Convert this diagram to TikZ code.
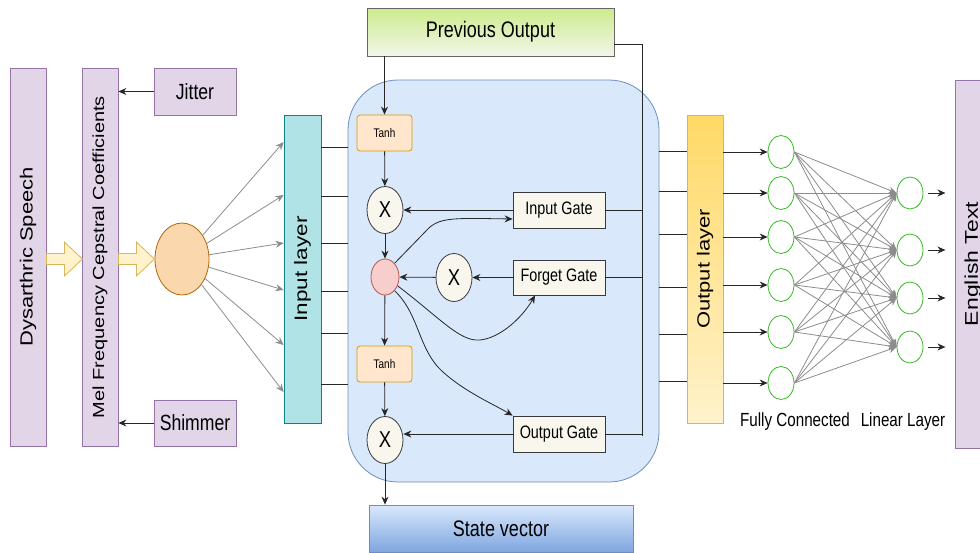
\documentclass[tikz,border=0pt]{standalone}
\usepackage{fontspec}
\setmainfont{Liberation Sans}[FakeStretch=0.8]
\newfontfamily\uprightsans{Liberation Sans}
\usetikzlibrary{arrows.meta,shapes.geometric}

\definecolor{lilac}{HTML}{E1D5E7}
\definecolor{lilacdraw}{HTML}{9673A6}
\definecolor{sand}{HTML}{FFF2CC}
\definecolor{sanddraw}{HTML}{D6B656}
\definecolor{peach}{HTML}{FAD7AC}
\definecolor{peachdraw}{HTML}{B46504}
\definecolor{teal}{HTML}{B0E3E6}
\definecolor{tealdraw}{HTML}{0E8088}
\definecolor{cellfill}{HTML}{DAE8FC}
\definecolor{celldraw}{HTML}{6C8EBF}
\definecolor{tanhfill}{HTML}{FFE6CC}
\definecolor{tanhdraw}{HTML}{D79B00}
\definecolor{gatefill}{HTML}{F9F7ED}
\definecolor{gatedraw}{HTML}{36393D}
\definecolor{pinkfill}{HTML}{F8CECC}
\definecolor{pinkdraw}{HTML}{B85450}
\definecolor{lime}{HTML}{CDEB8B}
\definecolor{limelight}{HTML}{F1F6EA}
\definecolor{stateblue}{HTML}{7EA6E0}
\definecolor{gold}{HTML}{FFD966}
\definecolor{neurongreen}{HTML}{33BB22}
\definecolor{fangray}{HTML}{8C8C8C}

\newcommand{\pxfont}[1]{\fontsize{#1pt}{#1pt}\selectfont}
\newcommand{\vlabel}[2]{\scalebox{0.8}[1]{\rotatebox{90}{\uprightsans\pxfont{#1}#2}}}

\begin{document}
\begin{tikzpicture}[x=1pt, y=-1pt, line width=0.8pt,
    >={Stealth[length=8pt,width=7pt]},
    purplebox/.style={draw=lilacdraw, fill=lilac, inner sep=0pt},
    fatarrow/.style={draw=sanddraw, fill=sand},
    wire/.style={draw=black!85},
    link/.style={->, draw=black!85},
    fan/.style={->, draw=fangray, line width=0.8pt},
    tanhbox/.style={draw=tanhdraw, fill=tanhfill, rounded corners=3pt, minimum width=55pt, minimum height=36pt, font=\pxfont{12.5}},
    gatebox/.style={draw=gatedraw, fill=gatefill, minimum width=92pt, minimum height=36pt, font=\pxfont{18}},
    mult/.style={ellipse, draw=gatedraw, fill=gatefill, minimum width=36pt, minimum height=47pt, inner sep=0pt, font=\pxfont{23}},
    neuron/.style={ellipse, draw=neurongreen, fill=white, minimum width=26pt, minimum height=33pt, inner sep=0pt}]
    \useasboundingbox (0,0) rectangle (980,552);

    % LSTM cell in the background
    \node[draw=celldraw, fill=cellfill, rounded corners=50pt, minimum width=311pt, minimum height=402pt] (cell) at (503.5,281) {};

    % Feature extraction side
    \node[purplebox, minimum width=36pt, minimum height=378pt] (speech) at (28,257) {\vlabel{22}{Dysarthric Speech}};
    \node[purplebox, minimum width=36pt, minimum height=378pt] (mfcc) at (100,257) {\vlabel{20}{Mel Frequency Cepstral Coefficients}};
    \node[purplebox, minimum width=82pt, minimum height=47pt, font=\pxfont{22}] (jitter) at (195,91.5) {Jitter};
    \node[purplebox, minimum width=82pt, minimum height=46pt, font=\pxfont{22}] (shimmer) at (195,423) {Shimmer};
    \draw[link] (jitter.west) -- (jitter.west -| mfcc.east);
    \draw[link] (shimmer.west) -- (shimmer.west -| mfcc.east);

    \node[ellipse, draw=peachdraw, fill=peach, minimum width=54pt, minimum height=72pt] (feat) at (182,259) {};
    \draw[fatarrow] (speech.east) ++(0,-3.5) -- ++(18,0) -- ++(0,-11.5) -- ++(18,17) -- ++(-18,17) -- ++(0,-11.5) -- ++(-18,0) -- cycle;
    \draw[fatarrow] (mfcc.east) ++(0,-3.5) -- ++(18,0) -- ++(0,-11.5) -- ++(18,17) -- ++(-18,17) -- ++(0,-11.5) -- ++(-18,0) -- cycle;

    % Input layer
    \node[draw=tealdraw, fill=teal, minimum width=37pt, minimum height=308pt, inner sep=0pt] (inlayer) at (302.5,269) {\vlabel{22.5}{Input layer}};
    \foreach \y in {142,195,243,290,345,392}
        \draw[fan] (feat) -- (inlayer.west |- 0,\y);
    \foreach \y in {147,196,243,291,333,384}
        \draw[wire] (inlayer.east |- 0,\y) -- (cell.west |- 0,\y);

    % Inside the cell
    \node[draw=black!60, top color=lime, bottom color=limelight, minimum width=247pt, minimum height=48pt, font=\pxfont{22.5}] (prev) at (490.5,32) {Previous Output};
    \node[tanhbox] (tanhA) at (384.5,133) {Tanh};
    \node[mult] (xA) at (385,210) {X};
    \node[gatebox] (ingate) at (559,210) {Input Gate};
    \node[ellipse, draw=pinkdraw, fill=pinkfill, minimum width=28pt, minimum height=36pt, inner sep=0pt] (cst) at (385,277) {};
    \node[mult, minimum height=48pt] (xF) at (454,277.5) {X};
    \node[gatebox, minimum height=35pt] (fgate) at (559,277.5) {Forget Gate};
    \node[tanhbox] (tanhB) at (384.5,364) {Tanh};
    \node[mult] (xO) at (385,440) {X};
    \node[gatebox] (ogate) at (559,434) {Output Gate};
    \node[draw=celldraw, top color=cellfill, bottom color=stateblue, minimum width=264pt, minimum height=47pt, font=\pxfont{22.5}] (state) at (501,528.5) {State vector};

    \draw[link] (prev.south -| tanhA) -- (tanhA);
    \draw[link] (tanhA) -- (xA);
    \draw[link] (xA) -- (cst);
    \draw[link] (cst) -- (tanhB);
    \draw[link] (tanhB) -- (xO);
    \draw[link] (xO) -- (xO |- state.north);
    \draw[link] (ingate) -- (xA);
    \draw[link] (fgate) -- (xF);
    \draw[link] (xF) -- (cst);
    \draw[link] (ogate.west) -- (ogate.west -| xO.east);

    % Cell state feeding the gates
    \draw[link] (cst.55) -- (425,232) .. controls (438,217) and (450,218) .. ([yshift=-9pt]ingate.west);
    \draw[link] (cst.-35) .. controls (440,318) and (460,342) .. (480,340) .. controls (500,338) and (522,318) .. ([xshift=-24pt]fgate.south);
    \draw[link] (cst.-55) .. controls (420,315) and (418,350) .. (443,372) .. controls (465,392) and (495,405) .. (ogate.north west);

    % Previous output bus
    \coordinate (bus) at (642,436);
    \draw[wire] ([yshift=-12pt]prev.east) -| (bus);
    \draw[wire] (ingate.east) -- (ingate.east -| bus);
    \draw[wire] (fgate.east) -- (fgate.east -| bus);
    \draw[wire] (ogate.east) -- (ogate.east -| bus);

    % Output side
    \node[draw=sanddraw, top color=gold, bottom color=sand, minimum width=36pt, minimum height=308pt, inner sep=0pt] (outlayer) at (705,269) {\vlabel{22}{Output layer}};
    \foreach \y in {151,191,234,287,334,381}
        \draw[wire] (cell.east |- 0,\y) -- (outlayer.west |- 0,\y);

    \foreach \i/\y in {1/152,2/193,3/237,4/285,5/332,6/383} {
        \node[neuron] (fc\i) at (781,\y) {};
        \draw[link] (outlayer.east |- fc\i) -- (fc\i.west);
    }
    \foreach \j/\y in {1/193,2/250,3/298,4/347} {
        \node[neuron, minimum height=32pt] (lin\j) at (910,\y) {};
        \draw[link] ([xshift=5pt]lin\j.east) -- ([xshift=22pt]lin\j.east);
    }
    \foreach \i in {1,...,6}
        \foreach \j in {1,...,4}
            \draw[fan] (fc\i.east) -- (lin\j.west);

    \node[font=\pxfont{19}] (fclabel) at (795,422) {Fully Connected};
    \node[font=\pxfont{19}] (linlabel) at (903,422) {Linear Layer};

    \node[purplebox, minimum width=36pt, minimum height=368pt] (english) at (973,264) {\vlabel{23}{English Text}};
\end{tikzpicture}
\end{document}
